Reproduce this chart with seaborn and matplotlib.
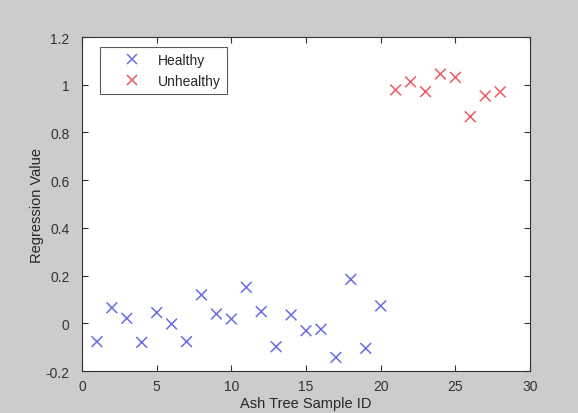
import pandas as pd
import numpy as np
import matplotlib
matplotlib.use("Agg")
import matplotlib.pyplot as plt
import seaborn as sns

# sample ids and regression values
healthy_id = list(range(1, 21))
healthy_val = [-0.077, 0.065, 0.021, -0.080, 0.045, -0.003, -0.077, 0.119, 0.039, 0.018,
               0.151, 0.049, -0.098, 0.035, -0.031, -0.025, -0.143, 0.184, -0.105, 0.073]
unhealthy_id = list(range(21, 29))
unhealthy_val = [0.978, 1.012, 0.971, 1.045, 1.031, 0.866, 0.953, 0.970]

data = pd.DataFrame({
    "id": healthy_id + unhealthy_id,
    "value": healthy_val + unhealthy_val,
    "group": ["Healthy"] * len(healthy_id) + ["Unhealthy"] * len(unhealthy_id),
})

sns.set_style("ticks")
plt.rcParams['font.family'] = ['Liberation Sans', 'DejaVu Sans']
plt.rcParams['text.color'] = "#262626"
plt.rcParams['axes.labelcolor'] = "#262626"
plt.rcParams['xtick.color'] = "#333333"
plt.rcParams['ytick.color'] = "#333333"

fig = plt.figure(figsize=(5.78, 4.14), dpi=100, facecolor="#cccccc")
ax = fig.add_axes([0.1419, 0.1014, 0.7751, 0.8068])

sns.scatterplot(data=data, x="id", y="value", hue="group",
                palette={"Healthy": "#6b6be6", "Unhealthy": "#e85c64"},
                marker="x", s=60, linewidth=1.1, ax=ax)

ax.set_xlim(0, 30)
ax.set_ylim(-0.2, 1.2)
ax.set_xticks([0, 5, 10, 15, 20, 25, 30])
ax.set_yticks(np.arange(-0.2, 1.21, 0.2))
ax.set_yticklabels(["-0.2", "0", "0.2", "0.4", "0.6", "0.8", "1", "1.2"])
ax.tick_params(direction="in", top=True, right=True, labelsize=10, length=4)
ax.tick_params(axis="x", pad=5.5)
ax.tick_params(axis="y", pad=9)
for sp in ax.spines.values():
    sp.set_visible(True)
    sp.set_color("#333333")
ax.set_xlabel("Ash Tree Sample ID", fontsize=10.5, labelpad=2.5)
ax.set_ylabel("Regression Value", fontsize=10.5, labelpad=1)

leg = ax.legend(loc="upper left", bbox_to_anchor=(0.04, 0.97), borderaxespad=0,
                fontsize=10, frameon=True, fancybox=False, edgecolor="#333333",
                handlelength=3.7, handletextpad=0.05, borderpad=0.45, labelspacing=0.48)
leg.get_frame().set_linewidth(0.8)

fig.savefig("out.png", dpi=100, facecolor=fig.get_facecolor())
